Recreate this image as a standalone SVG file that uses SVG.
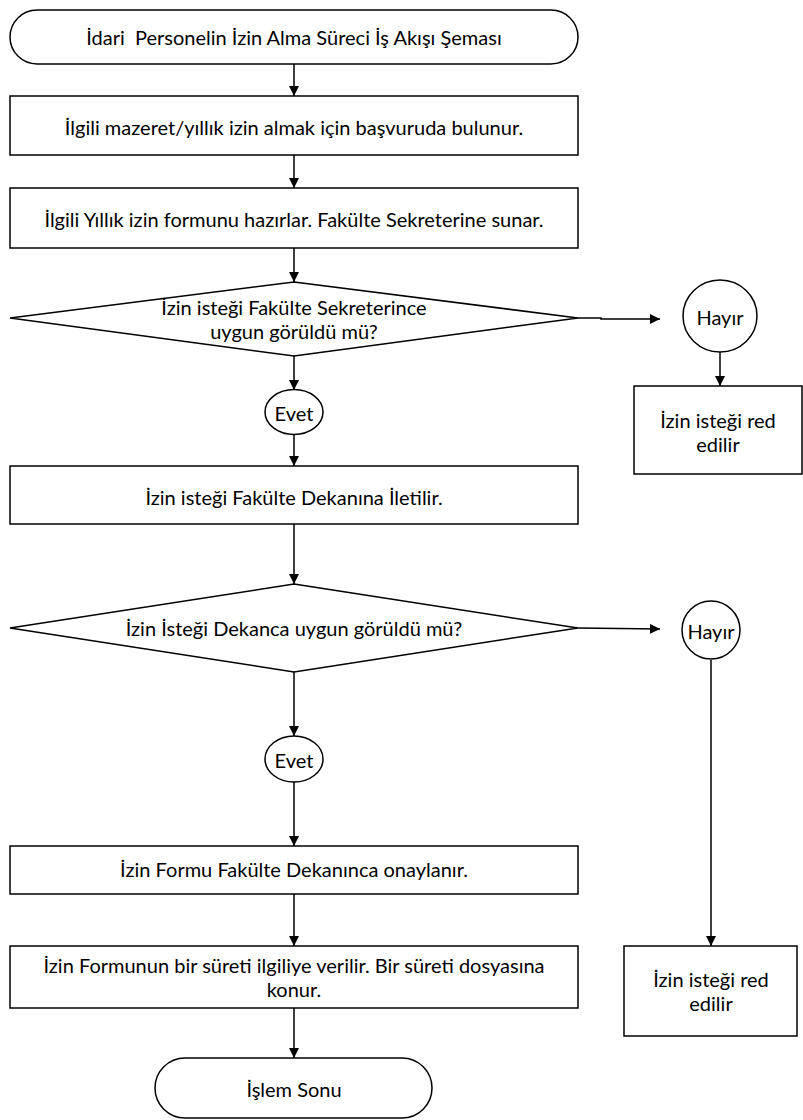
<svg xmlns="http://www.w3.org/2000/svg" width="803" height="1120" viewBox="0 0 803 1120">
<defs>
<marker id="ah" markerWidth="10" markerHeight="10" refX="10" refY="5" orient="auto" markerUnits="userSpaceOnUse">
<path d="M0,0 L10,5 L0,10 Z" fill="#000"/>
</marker>
<style>
.s{fill:#fff;stroke:#000;stroke-width:1.5}
.c{fill:none;stroke:#000;stroke-width:1.5;marker-end:url(#ah)}
text{font-family:Lato,"Liberation Sans",sans-serif;font-size:20px;fill:#000;text-anchor:middle;dominant-baseline:central}
</style>
</defs>
<rect width="803" height="1120" fill="#fff"/>
<g id="connectors">
<line class="c" x1="294" y1="64" x2="294" y2="96"/>
<line class="c" x1="294" y1="155" x2="294" y2="188"/>
<line class="c" x1="294" y1="248" x2="294" y2="282"/>
<polyline class="c" points="578,318 601,318 601,319 660,319"/>
<line class="c" x1="720" y1="352" x2="720" y2="386"/>
<line class="c" x1="294" y1="356" x2="294" y2="390"/>
<line class="c" x1="294" y1="435" x2="294" y2="466"/>
<line class="c" x1="294" y1="524" x2="294" y2="584"/>
<line class="c" x1="578" y1="628" x2="660" y2="629"/>
<line class="c" x1="711" y1="660" x2="711" y2="946"/>
<line class="c" x1="294" y1="672" x2="294" y2="736"/>
<line class="c" x1="294" y1="782" x2="294" y2="846"/>
<line class="c" x1="294" y1="894" x2="294" y2="946"/>
<line class="c" x1="294" y1="1008" x2="294" y2="1058"/>
</g>
<g id="start"><rect class="s" x="10" y="10" width="568" height="54" rx="27" ry="27"/><text x="294" y="37" xml:space="preserve">İdari  Personelin İzin Alma Süreci İş Akışı Şeması</text></g>
<g id="step1"><rect class="s" x="10" y="96" width="568" height="59"/><text x="294" y="127">İlgili mazeret/yıllık izin almak için başvuruda bulunur.</text></g>
<g id="step2"><rect class="s" x="10" y="188" width="568" height="60"/><text x="294" y="219">İlgili Yıllık izin formunu hazırlar. Fakülte Sekreterine sunar.</text></g>
<g id="decision1"><polygon class="s" points="294,282 578,318 294,356 10,318"/><text x="294" y="307">İzin isteği Fakülte Sekreterince</text><text x="294" y="331">uygun görüldü mü?</text></g>
<g id="hayir1"><ellipse class="s" cx="720" cy="316" rx="37" ry="36"/><text x="720" y="317">Hayır</text></g>
<g id="red1"><rect class="s" x="634" y="386" width="168" height="88"/><text x="718" y="420">İzin isteği red</text><text x="718" y="444">edilir</text></g>
<g id="evet1"><ellipse class="s" cx="294" cy="412" rx="29" ry="22.5"/><text x="294" y="413">Evet</text></g>
<g id="step3"><rect class="s" x="10" y="466" width="568" height="58"/><text x="294" y="497">İzin isteği Fakülte Dekanına İletilir.</text></g>
<g id="decision2"><polygon class="s" points="294,584 578,628 294,672 10,628"/><text x="294" y="628">İzin İsteği Dekanca uygun görüldü mü?</text></g>
<g id="hayir2"><ellipse class="s" cx="711" cy="630" rx="29" ry="29"/><text x="711" y="631">Hayır</text></g>
<g id="red2"><rect class="s" x="624" y="946" width="173" height="90"/><text x="711" y="979">İzin isteği red</text><text x="711" y="1003">edilir</text></g>
<g id="evet2"><ellipse class="s" cx="294" cy="759" rx="29" ry="23"/><text x="294" y="760">Evet</text></g>
<g id="step4"><rect class="s" x="10" y="846" width="568" height="48"/><text x="294" y="869">İzin Formu Fakülte Dekanınca onaylanır.</text></g>
<g id="step5"><rect class="s" x="10" y="946" width="568" height="62"/><text x="294" y="965">İzin Formunun bir süreti ilgiliye verilir. Bir süreti dosyasına</text><text x="294" y="989">konur.</text></g>
<g id="end"><rect class="s" x="155" y="1058" width="277" height="60" rx="30" ry="30"/><text x="294" y="1089">İşlem Sonu</text></g>
</svg>
